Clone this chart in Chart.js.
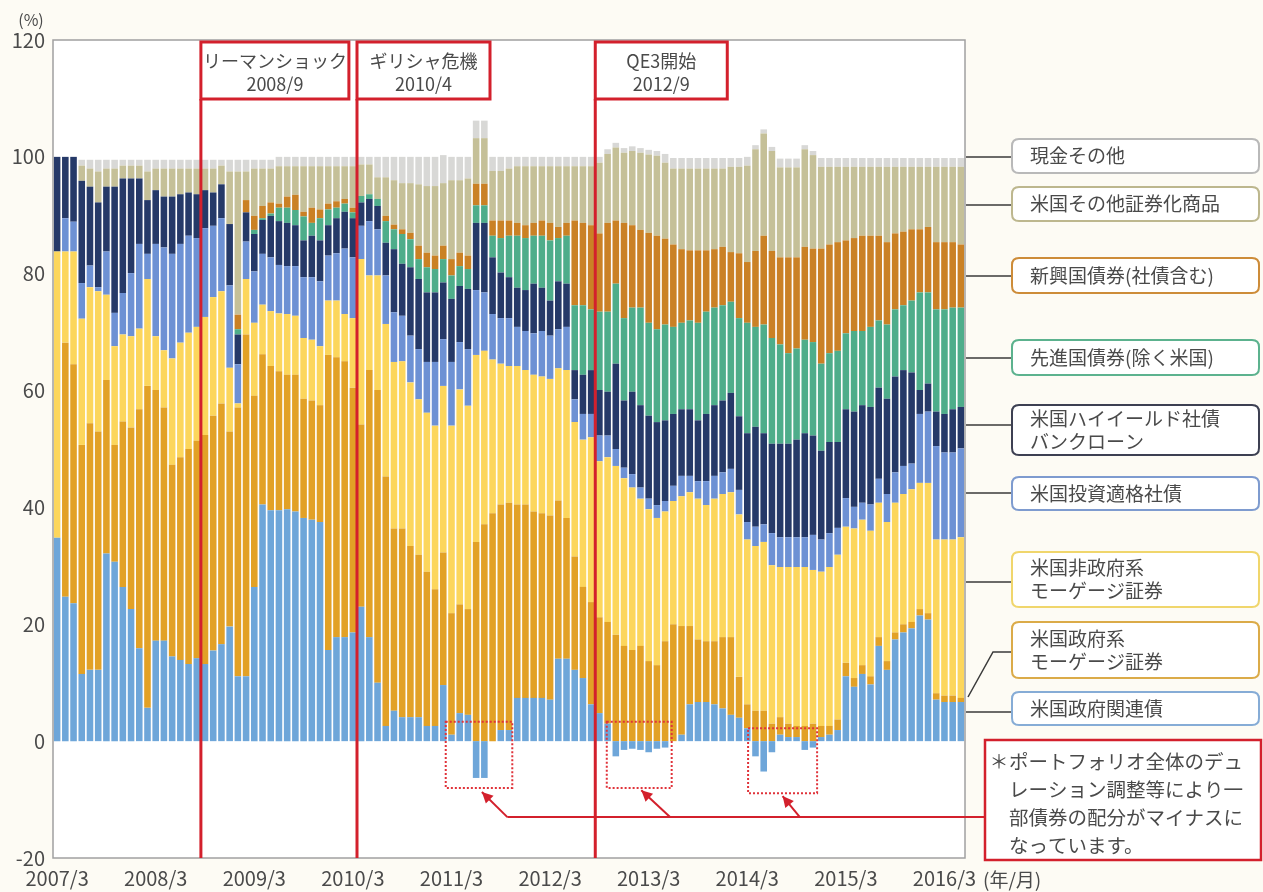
<!DOCTYPE html>
<html lang="ja">
<head>
<meta charset="utf-8">
<title>資産配分の推移</title>
<script src="https://cdn.jsdelivr.net/npm/chart.js@4.4.1/dist/chart.umd.min.js"></script>
<style>
html,body{margin:0;padding:0;background:#fdfbf4;}
#wrap{width:1263px;height:892px;position:relative;}
canvas{display:block;}
</style>
</head>
<body>
<div id="wrap"><canvas id="c" width="1263" height="892"></canvas></div>
<script>
const FONT = '"Noto Sans CJK JP","Noto Sans",sans-serif';

// ---- categories (monthly, 2007/3 .. 2016/5) ----
const categories = [];
for (let y = 2007, m = 3, n = 0; n < 111; n++) {
  categories.push(y + '/' + m);
  m++; if (m > 12) { m = 1; y++; }
}
const tickLabels = ['2007/3','2008/3','2009/3','2010/3','2011/3','2012/3','2013/3','2014/3','2015/3','2016/3'];

const seriesLabels = ['米国政府関連債','米国政府系\nモーゲージ証券','米国非政府系\nモーゲージ証券','米国投資適格社債',
  '米国ハイイールド社債\nバンクローン','先進国債券(除く米国)','新興国債券(社債含む)','米国その他証券化商品','現金その他'];

// ---- series values (%), one value per month ----
const govRelated = [
  34.8,24.7,23.6,11.5,12.2,12.2,32.1,30.7,26.4,22.6,15.9,5.7,
  17.2,17.2,14.5,13.9,13.2,14.2,13.2,15.5,16.6,19.6,11.1,11.1,
  26.4,40.5,39.5,39.5,39.7,39.3,38.2,37.9,37.5,15.6,17.8,17.8,
  18.6,23,17.8,10,2.6,5.2,4.1,4.1,4.1,2.6,2.6,9.6,
  1.1,4.8,4.5,-6.3,-6.3,0,1.9,1.9,7.4,7.4,7.4,7.4,
  7.1,14.1,14.1,12.2,10.8,6.3,4.8,3,-2.6,-1.5,-1.3,-1.5,
  -1.9,-1.3,-1.1,0,1.1,6.3,6.7,6.7,6.3,5.6,4.5,4,
  2.2,-2.6,-5.2,-1.9,1.1,0.7,0.7,-1.5,-1.1,0.7,1.1,1.9,
  11.1,9.3,11.5,9.7,16.3,12.2,17.4,18.6,19.3,21.5,20.8,7.1,
  6.7,6.7,6.7];
const govMBS = [
  0,43.5,40.9,39.2,42.2,40.8,29.7,20,28.3,31.1,40.9,55.1,
  42.9,39.9,32.8,34.7,36.8,37.2,39.2,40.2,41.2,33.4,46,58.5,
  32.7,25.7,24.7,23.8,23,23.4,20.4,20.4,20,50.5,47.9,47.2,
  41.9,31.2,45.7,50.1,42.7,31.2,32.3,29.3,27.8,26.4,23.4,22.7,
  20.8,18.6,18.1,34.1,37.1,39,38.6,38.9,33.1,33.1,31.9,31.6,
  31.5,27.1,24.1,19.4,15.6,17.5,16.4,17.4,18.2,16.3,15.6,16.3,
  13.7,13,17.1,20,18.6,13.4,10.7,10.4,10.8,12.2,13.3,7,
  4.1,5.2,5.2,3,3,2.3,1.9,2.6,3,1.9,1.5,1.8,
  2.3,1.5,1.5,1.4,1.5,1.5,1.2,1.4,1.1,1.1,1.1,1.1,
  1.1,1.1,0.7];
const nonGovMBS = [
  49,15.6,19.3,21.6,23.3,24,14.6,16.9,14.9,15.6,13.8,18.3,
  9.2,9.8,18.2,19.6,19.9,19.5,20.2,20.3,19.2,10.9,0.7,9.5,
  12.5,8.5,9.4,9.9,10.4,10.1,10.4,10.4,10.1,9.3,9.7,8.1,
  11.9,28.3,16.2,19.6,26.1,28.5,28.6,28,26.6,27.2,28,28.5,
  32.1,36.8,34.8,32,29.7,26.3,24.1,23.4,23.7,23,23.4,23.4,
  23.4,22.6,25.3,23,25.2,28.2,26.7,28.2,28.9,28.7,27.8,25.2,
  26,25.2,22.2,21.1,22.2,22.9,24.1,23.3,24.4,24.5,24.8,27.8,
  28.2,28.2,28.9,27.1,25.7,26.8,27.2,27.2,26.3,26.4,27.2,28.2,
  23.3,25.6,24.9,24.9,23,23.8,22.2,22.3,22.7,21.6,22.3,26.3,
  26.7,26.7,27.5];
const igCorp = [
  0,5.7,5.1,6.1,3.7,0.7,7.4,5.7,7.1,10.8,14.5,4.3,
  15.8,17.6,17.9,16.9,16.6,15.2,15.2,12.2,12.5,14.1,6.7,6.4,
  8.8,8.7,9.2,8.3,8.2,8.5,10.4,10.7,11.1,7.7,8.1,11.2,
  10.4,5.7,9.3,7.9,8.3,8.5,7.8,8,8.6,8.7,10.9,8,
  10.9,8.1,9.7,11.1,10,7.8,7.8,8.2,6.7,6.7,7.1,7.8,
  7.4,6.7,7.4,3.9,4.4,4,4.4,3.7,2.9,1.8,2.3,1.9,
  1.8,2.2,1.8,2.6,3.5,2.8,3,4.1,3.9,3.7,4,4.2,
  3,3.3,3,5.5,5.1,5.1,5.1,5.1,6,5.5,5.8,4.6,
  4.9,3.7,2.9,4.5,4.1,4.8,5.2,4.8,4.4,11.8,12.2,16,
  14.9,14.9,15.2];
const hyLoan = [
  16.2,10.5,11.1,17.5,13.5,14.5,11.1,21.6,19.6,16.2,11.2,9.2,
  9.2,8.7,9.8,8.5,7.4,7.5,6.5,5.7,5.8,10.5,5.1,5,
  6.4,5.8,7.1,7.5,7.4,7,6.3,7.1,7,5.2,6,6.3,
  6.7,4,3.8,4,5.6,10.8,8.9,11.7,12,11.9,11.9,9.7,
  10.8,9.6,10.3,11.5,11.9,9.7,7.8,7,6.7,7,8.5,7.4,
  6,8.2,7.4,5,6.7,7.5,7.8,7.5,14.6,11.5,14.1,14.1,
  14.2,14.2,13.8,12.3,11.4,11.4,10.4,11.5,12.1,12.3,13,12.6,
  15.2,17.1,15.6,15.3,16,16,16.7,17.8,17,15.2,15.6,14.7,
  15.2,16.3,16.7,16.7,15.6,16.3,16.4,16.4,15.6,4.1,4.8,5.9,
  6.6,7.4,7.1];
const devBonds = [
  0,0,0,0,0,0,0,0,0,0,0,0,
  0,0,0,0,0,0,0,0,0,0,0.9,0,
  0.7,0.3,0.4,2.3,2.6,2.6,4.1,2.2,3.8,2.7,1.8,1.4,
  1,1.1,0.8,1.2,3.7,3.4,5.1,4.8,3.4,4.3,4,4,
  4,3.4,3.4,3,3,3.7,5.9,7.1,8.9,8.9,8.2,8.9,
  10.3,7.4,8.2,11.1,11.9,10.4,13.4,13.7,13.7,14.1,14.4,16.7,
  15.9,15.9,16.4,14.9,14.8,15.2,16.7,17.5,16.7,16.3,15.6,16.8,
  18.9,17.1,18.6,18.1,17,15.5,15.6,16,16,14.9,15.2,15.6,
  13,13.8,12.7,13.7,11.5,12.7,11.5,11.1,12.3,16.7,15.6,17.5,
  17.9,17.4,17];
const emBonds = [
  0,0,0,0,0,0,0,0,0,0,0,0,
  0,0,0,0,0,0,0,0,0,0,2.5,2.1,
  2.4,2.1,1.9,0.7,1.9,2.6,0.8,2.6,1.5,1,1.1,0.8,
  0.8,0,0,0,0.9,0.8,0.8,1.1,2.3,2.5,2.3,2.3,
  2.8,2.3,2.3,3.7,3.7,2.6,3,2.6,2.2,2.2,2.2,2.6,
  3,1.9,2.2,14.5,14.1,14.4,13.4,15.2,10.8,16.3,14.1,13.3,
  15.4,16,14.7,14.1,12.6,12,12.4,10.5,10,10,8.5,11.1,
  10.4,13,15.2,14.9,14.9,16.4,15.6,15.9,16,19.7,18.6,18.6,
  15.9,15.9,16.3,15.6,14.5,14.1,13,12.6,12.2,10.8,11.2,11.5,
  11.5,11.2,10.8];
const otherABS = [
  0,0,0,2.6,3.1,5.3,3.1,3.1,2.2,2.2,2.2,4.9,
  3.7,4.8,4.8,4.4,4.1,4.4,3.7,4.1,3.2,9,24.5,4.9,
  8.1,6.4,5.8,6.4,5.2,4.9,7.8,7.1,7.4,6.4,6,5.6,
  7.1,5.4,5.1,3.7,6.6,7.6,7.9,8.5,10.5,11.4,11.9,10.7,
  13.5,12.4,13.2,7.8,7.8,8.5,8.5,8.9,9.7,10.1,9.7,9.3,
  9.7,10.4,9.7,9.3,9.7,10.1,12.1,11.8,12.5,12,12.7,13.2,
  13.4,13.7,13,13,13.8,14,14,14,13.8,13.4,14.6,14.8,
  16.5,17.4,17.5,17.1,15.4,15.4,15.4,16.7,16,14,13.3,12.9,
  12.6,12.2,11.8,11.8,11.8,12.9,11.4,11.1,10.7,10.7,10.3,12.9,
  12.9,12.9,13.3];
const cash = [
  0,0,0,1,1.5,2,1.5,1.5,1,1,1,2,
  1.5,1.5,1.5,1.5,1.5,1.5,1.5,1.5,1,2,2,2,
  1.5,1.5,1.5,1.6,1.6,1.6,1.6,1.6,1.6,1.6,1.6,1.6,
  1.6,1.3,1.3,3.5,3.5,4,4.5,4.5,4.7,5,5,4.8,
  4,4,3.7,3,3,2.4,2.4,2,1.6,1.6,1.6,1.6,
  1.6,1.6,1.6,1.6,1.6,1.6,1,0.8,0.8,0.8,0.8,0.8,
  0.8,0.8,1.5,1.8,1.8,1.8,1.8,1.8,1.8,1.8,1.5,1.5,
  1.5,0.7,0.7,0.7,1.5,1.5,1.5,0.7,0.7,1.5,1.5,1.5,
  1.5,1.5,1.5,1.5,1.5,1.5,1.5,1.5,1.5,1.5,1.5,1.5,
  1.5,1.5,1.5];

// ---- annotations (text) ----
const eventNames = ['リーマンショック','ギリシャ危機','QE3開始'];
const eventMonths = ['2008/9','2010/4','2012/9'];
const noteLines = ['ポートフォリオ全体のデュ','レーション調整等により一','部債券の配分がマイナスに','なっています。'];

// ---- styles ----
const fillColors = ['#6ea6d9','#e2a126','#fcd65c','#6d91d4','#253968','#4ead8a','#ca8125','#c5c098','#d8d8d6'];
const legendBorder = ['#86acd6','#dbab48','#f0d66c','#7e9bcf','#3d4052','#5cb28e','#cd8c39','#bdb78e','#b9b9b9'];
const seriesData = [govRelated, govMBS, nonGovMBS, igCorp, hyLoan, devBonds, emBonds, otherABS, cash];

const TEXT = '#4a4a4a';
const RED = '#d3202c';

function txt(ctx, s, x, y, size, align, color) {
  ctx.font = size + 'px ' + FONT;
  ctx.fillStyle = color || TEXT;
  ctx.textAlign = align || 'left';
  ctx.textBaseline = 'middle';
  ctx.fillText(s, x, y);
}
function rrect(ctx, x, y, w, h, r) {
  ctx.beginPath();
  ctx.moveTo(x + r, y);
  ctx.lineTo(x + w - r, y); ctx.quadraticCurveTo(x + w, y, x + w, y + r);
  ctx.lineTo(x + w, y + h - r); ctx.quadraticCurveTo(x + w, y + h, x + w - r, y + h);
  ctx.lineTo(x + r, y + h); ctx.quadraticCurveTo(x, y + h, x, y + h - r);
  ctx.lineTo(x, y + r); ctx.quadraticCurveTo(x, y, x + r, y);
  ctx.closePath();
}
function arrow(ctx, x1, y1, x2, y2) {
  ctx.beginPath(); ctx.moveTo(x1, y1); ctx.lineTo(x2, y2); ctx.stroke();
  const ang = Math.atan2(y2 - y1, x2 - x1), L = 11, W = 5.5;
  ctx.beginPath();
  ctx.moveTo(x2, y2);
  ctx.lineTo(x2 - L * Math.cos(ang) + W * Math.sin(ang), y2 - L * Math.sin(ang) - W * Math.cos(ang));
  ctx.lineTo(x2 - L * Math.cos(ang) - W * Math.sin(ang), y2 - L * Math.sin(ang) + W * Math.cos(ang));
  ctx.closePath(); ctx.fill();
}

const annot = {
  id: 'annot',
  beforeDraw(chart) {
    const {ctx, chartArea: a, width, height} = chart;
    ctx.save();
    ctx.fillStyle = '#fdfbf4'; ctx.fillRect(0, 0, width, height);
    ctx.fillStyle = '#ffffff'; ctx.fillRect(a.left, a.top, a.right - a.left, a.bottom - a.top);
    ctx.restore();
  },
  afterDatasetsDraw(chart) {
    const {ctx, chartArea: a} = chart;
    const xs = chart.scales.x, ys = chart.scales.y;
    const x0 = xs.getPixelForValue(0), pitch = xs.getPixelForValue(1) - x0;
    const px = i => x0 + i * pitch;
    const py = v => ys.getPixelForValue(v);
    ctx.save();

    // plot frame
    ctx.strokeStyle = '#a0a0a0'; ctx.lineWidth = 1.5;
    ctx.strokeRect(a.left, a.top, a.right - a.left, a.bottom - a.top);

    // dotted boxes around negative allocations [index range, value range]
    const dbox = [[47.3, 55.4, 3.3, -8.0], [66.9, 74.8, 3.3, -8.0], [84.1, 92.5, 2.2, -8.9]];
    ctx.strokeStyle = '#e0333a'; ctx.lineWidth = 2; ctx.setLineDash([2, 2]);
    dbox.forEach(b => {
      const l = px(b[0]), r = px(b[1]), t = py(b[2]), bt = py(b[3]);
      ctx.strokeRect(l, t, r - l, bt - t);
    });
    ctx.setLineDash([]);

    // arrows to the note
    ctx.strokeStyle = RED; ctx.fillStyle = RED; ctx.lineWidth = 2;
    const yLine = py(-13);
    ctx.beginPath(); ctx.moveTo(px(54.8), yLine); ctx.lineTo(985, yLine); ctx.stroke();
    arrow(ctx, px(54.8), yLine, px(51.7), py(-8.7));
    arrow(ctx, px(74.6), yLine, px(71.1), py(-8.4));
    arrow(ctx, px(90.4), yLine, px(88.3), py(-9.4));

    // event lines and boxes
    const boxW = [148, 133, 132];
    const boxTop = a.top + 2, boxBot = 99;
    ctx.strokeStyle = RED; ctx.lineWidth = 3;
    eventMonths.forEach((m, k) => {
      const xl = px(categories.indexOf(m)) - pitch / 2;
      ctx.beginPath(); ctx.moveTo(xl, boxBot); ctx.lineTo(xl, a.bottom); ctx.stroke();
      ctx.fillStyle = '#ffffff';
      ctx.fillRect(xl, boxTop, boxW[k], boxBot - boxTop);
      ctx.strokeRect(xl, boxTop, boxW[k], boxBot - boxTop);
      txt(ctx, eventNames[k], xl + boxW[k] / 2, 61, 18, 'center');
      txt(ctx, m, xl + boxW[k] / 2, 84, 18, 'center');
    });

    // legend boxes (top to bottom)
    const order = [8, 7, 6, 5, 4, 3, 2, 1, 0];
    const lay = [[139,173],[187,221],[258,293],[340,375],[405,455],[477,510],[552,607],[622,678],[692,725]];
    const leads = [
      [[966,157],[1012,157]], [[966,205],[1012,205]], [[966,276],[1012,276]], [[966,358],[1012,358]],
      [[966,425],[1012,425]], [[966,493],[1012,493]], [[966,582],[1012,582]],
      [[968,697],[993,652],[1012,652]], [[966,712],[1012,712]]];
    order.forEach((si, k) => {
      const [y0, y1] = lay[k];
      ctx.strokeStyle = '#3a3a3a'; ctx.lineWidth = 1.5;
      ctx.beginPath();
      leads[k].forEach((p, j) => j ? ctx.lineTo(p[0], p[1]) : ctx.moveTo(p[0], p[1]));
      ctx.stroke();
      rrect(ctx, 1012, y0, 247, y1 - y0, 7);
      ctx.fillStyle = '#ffffff'; ctx.fill();
      ctx.strokeStyle = legendBorder[si]; ctx.lineWidth = 2; ctx.stroke();
      const lines = seriesLabels[si].split('\n');
      const cy = (y0 + y1) / 2;
      if (lines.length === 1) txt(ctx, lines[0], 1030, cy, 19);
      else { txt(ctx, lines[0], 1030, cy - 11.5, 19); txt(ctx, lines[1], 1030, cy + 11.5, 19); }
    });

    // note box
    ctx.strokeStyle = RED; ctx.lineWidth = 2.5;
    ctx.fillStyle = '#ffffff';
    ctx.fillRect(985, 740, 276, 120);
    ctx.strokeRect(985, 740, 276, 120);
    txt(ctx, '＊', 999, 762, 19, 'center');
    noteLines.forEach((s, k) => txt(ctx, s, 1009, 762 + k * 28, 19.5));

    // axis unit labels
    txt(ctx, '(%)', 31, 20, 16, 'center');
    txt(ctx, '(年/月)', 983, 880, 19);

    ctx.restore();
  }
};

new Chart(document.getElementById('c'), {
  type: 'bar',
  data: {
    labels: categories,
    datasets: seriesData.map((d, i) => ({
      label: seriesLabels[i].replace('\n', ''),
      data: d,
      backgroundColor: fillColors[i],
      borderWidth: 0,
      barPercentage: 0.8,
      categoryPercentage: 1.0
    }))
  },
  options: {
    responsive: false,
    animation: false,
    devicePixelRatio: 1,
    layout: { padding: { left: 0, right: 298, top: 40, bottom: 0 } },
    plugins: { legend: { display: false }, tooltip: { enabled: false } },
    scales: {
      x: {
        stacked: true,
        offset: true,
        grid: { display: false, drawTicks: false },
        border: { display: false },
        ticks: {
          autoSkip: false, maxRotation: 0, minRotation: 0, padding: 8,
          color: TEXT, font: { family: FONT, size: 20 },
          callback: function (v, i) { const c = categories[i]; return tickLabels.includes(c) ? c : ''; }
        },
        afterFit: s => { s.height = 34; }
      },
      y: {
        stacked: true,
        min: -20, max: 120,
        grid: { display: false, drawTicks: false },
        border: { display: false },
        ticks: { stepSize: 20, padding: 8, color: TEXT, font: { family: FONT, size: 20 } },
        afterFit: s => { s.width = 53; }
      }
    }
  },
  plugins: [annot]
});
</script>
</body>
</html>
